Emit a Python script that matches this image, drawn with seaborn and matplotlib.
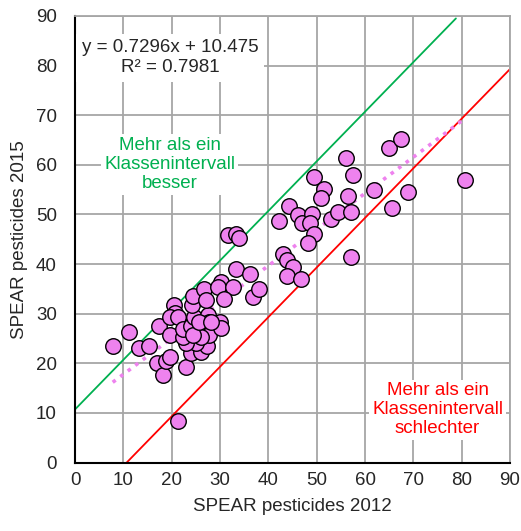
import matplotlib
matplotlib.use("Agg")
import matplotlib.pyplot as plt
from matplotlib.ticker import MultipleLocator
import seaborn as sns
import pandas as pd
import numpy as np

# SPEAR pesticides per site
spear_2012 = [7.8, 11.1, 13.2, 15.4, 17.4, 16.9, 18.2, 18.9, 19.6, 19.6,
              20.4, 20.7, 19.6, 21.3, 22.9, 21.4, 24.0, 26.1, 27.2, 25.1,
              23.0, 22.3, 22.3, 24.4, 24.0, 24.7, 26.2, 27.5, 27.7, 27.8,
              29.9, 30.2, 26.1, 24.4, 24.2, 24.4, 26.6, 27.0, 30.2, 29.6,
              32.7, 30.9, 36.9, 38.0, 31.7, 33.3, 34.0, 33.2, 36.1, 43.0,
              43.9, 45.0, 43.9, 46.8, 42.3, 44.3, 46.2, 46.9, 49.1, 48.7,
              49.4, 48.2, 49.4, 51.6, 50.9, 53.0, 54.5, 57.1, 56.4, 57.5,
              56.0, 57.1, 61.8, 65.5, 68.8, 64.9, 67.4, 80.7, 25.7, 28.1]
spear_2015 = [23.5, 26.4, 23.1, 23.5, 27.5, 20.0, 17.6, 20.4, 21.3, 25.7,
              31.8, 30.2, 29.3, 29.3, 19.3, 8.4, 22.0, 22.3, 23.5, 24.0,
              24.0, 25.3, 26.9, 28.3, 27.6, 29.3, 26.9, 29.7, 28.3, 25.7,
              28.3, 27.1, 25.3, 25.7, 31.8, 33.6, 35.0, 32.7, 36.4, 35.4,
              35.4, 32.9, 33.4, 35.0, 45.8, 46.1, 45.3, 38.9, 37.9, 42.0,
              40.9, 39.4, 37.5, 36.9, 48.6, 51.6, 49.8, 48.2, 50.0, 48.2,
              46.1, 44.3, 57.6, 55.1, 53.3, 49.0, 50.5, 50.5, 53.7, 58.0,
              61.3, 41.5, 55.0, 51.2, 54.5, 63.4, 65.2, 57.0, 28.3, 28.3]

slope = 0.7296
intercept = 10.475
r2 = 0.7981

# one class interval above / below the 1:1 line
better_x = [0, 78.8]
better_y = [10.7, 89.5]
worse_x = [10.7, 90]
worse_y = [0, 79.3]

df = pd.DataFrame({"x": spear_2012, "y": spear_2015})

sns.set_style("white")
plt.rcParams['font.family'] = ['Liberation Sans', 'DejaVu Sans']
fs = 13.5

fig = plt.figure(figsize=(5.21, 5.31), dpi=100)
ax = fig.add_axes([0.144, 0.129, 0.835, 0.841])

ax.plot(better_x, better_y, color="#00b050", lw=1.3, zorder=2)
ax.plot(worse_x, worse_y, color="red", lw=1.3, zorder=2)

# trendline from the equation shown on the chart
fit_x = np.array([min(spear_2012), max(spear_2012)])
ax.plot(fit_x, slope * fit_x + intercept, color="#ee82ee", lw=2.6,
        linestyle=(0, (1, 1.6)), zorder=2)

sns.scatterplot(data=df, x="x", y="y", ax=ax, s=125, color="#ee82ee",
                edgecolor="black", linewidth=1.0, zorder=3, legend=False)

ax.set_xlim(0, 90)
ax.set_ylim(0, 90)
ax.xaxis.set_major_locator(MultipleLocator(10))
ax.yaxis.set_major_locator(MultipleLocator(10))
ax.xaxis.set_minor_locator(MultipleLocator(1))
ax.yaxis.set_minor_locator(MultipleLocator(1))
ax.grid(True, which="major", color="#a6a6a6", lw=1.3, zorder=0)
ax.set_axisbelow(True)
ax.tick_params(which="both", direction="in", length=5, width=1, color="black",
               labelsize=fs)
ax.tick_params(axis="x", pad=7)
ax.tick_params(axis="y", pad=13)

for side in ["top", "right"]:
    ax.spines[side].set_color("#a6a6a6")
    ax.spines[side].set_linewidth(1.3)
for side in ["left", "bottom"]:
    ax.spines[side].set_color("black")
    ax.spines[side].set_linewidth(1.5)

ax.set_xlabel("SPEAR pesticides 2012", fontsize=fs, labelpad=6)
ax.set_ylabel("SPEAR pesticides 2015", fontsize=fs, labelpad=6)

ax.text(19.7, 81.6, "y = 0.7296x + 10.475\nR² = 0.7981", fontsize=fs,
        ha="center", va="center", linespacing=1.2, zorder=4,
        bbox=dict(facecolor="white", edgecolor="none", pad=4))
ax.text(19.6, 60.1, "Mehr als ein\nKlassenintervall\nbesser", fontsize=fs,
        color="#00b050", ha="center", va="center", linespacing=1.15, zorder=4,
        bbox=dict(facecolor="white", edgecolor="none", pad=2))
ax.text(75.0, 10.6, "Mehr als ein\nKlassenintervall\nschlechter", fontsize=fs,
        color="red", ha="center", va="center", linespacing=1.15, zorder=4,
        bbox=dict(facecolor="white", edgecolor="none", pad=2))

fig.savefig("out.png", dpi=100)
